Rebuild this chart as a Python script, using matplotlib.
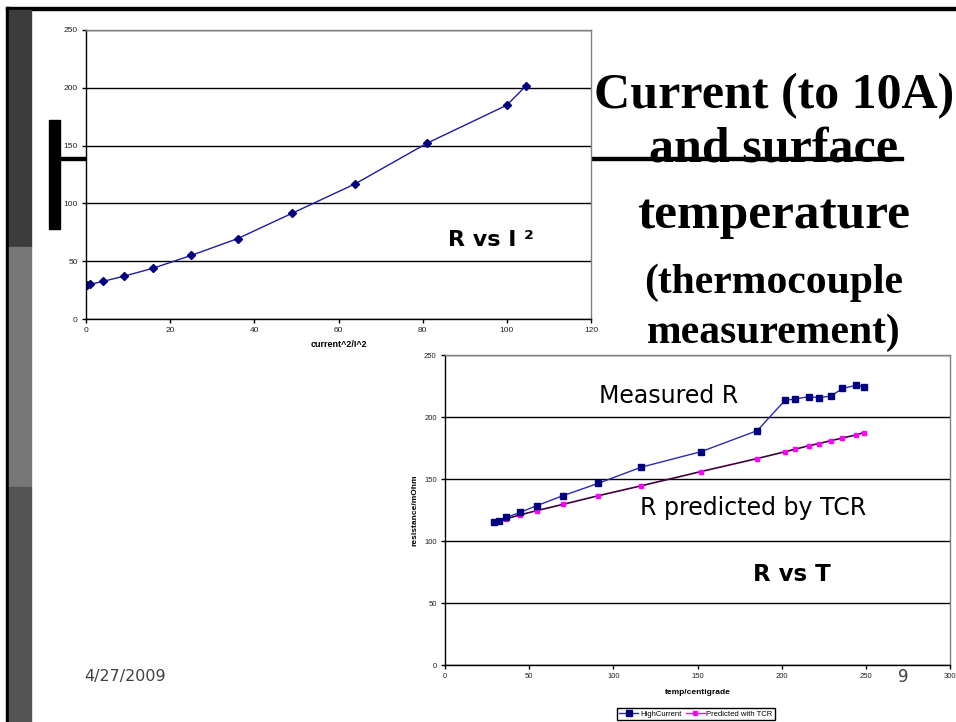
import matplotlib.pyplot as plt
from matplotlib.patches import Rectangle
from matplotlib.lines import Line2D

# R vs I^2 (top chart)
current_sq = [0.25, 1, 4, 9, 16, 25, 36, 49, 64, 81, 100, 104.5]
resistance_i2 = [29, 30, 32.5, 37, 44, 55, 69.5, 91.5, 117, 152, 185, 201.5]

# R vs T (bottom chart)
temp_c = [29, 32, 36.5, 44.5, 54.5, 70, 91, 116.5, 152, 185.5,
          202, 208, 216.5, 222, 229.5, 236, 244, 249]
high_current = [115, 116.5, 119, 123, 128.5, 136.5, 146.5, 159.5, 172, 189,
                213.5, 214.5, 216.5, 215.5, 217, 223, 225.5, 224.5]
predicted_tcr = [115.5, 116.5, 118, 121, 124.5, 129.5, 136.5, 144.5, 156, 166.5,
                 172, 174, 177, 178.5, 181, 183, 185.5, 187.5]

series_names = ["HighCurrent", "Predicted with TCR"]

title_lines = ["Current (to 10A)", "and surface", "temperature",
               "(thermocouple", "measurement)"]

plt.rcParams["font.family"] = "Liberation Sans"

fig = plt.figure(figsize=(9.56, 7.22), dpi=100)

# slide background, drawn in pixel coordinates
bg = fig.add_axes([0, 0, 1, 1])
bg.set_xlim(0, 956)
bg.set_ylim(722, 0)
bg.axis("off")
bg.add_patch(Rectangle((6, 7), 950, 2.5, color="black"))
bg.add_patch(Rectangle((6, 7), 3, 715, color="black"))
bg.add_patch(Rectangle((9, 9.5), 22, 237.5, color="#3c3c3c"))
bg.add_patch(Rectangle((9, 247), 22, 240, color="#777777"))
bg.add_patch(Rectangle((9, 487), 22, 235, color="#555555"))
bg.add_patch(Rectangle((49, 120), 11, 109, color="black"))
bg.add_patch(Rectangle((60, 157), 843, 3, color="black"))

sizes = [36, 36, 37, 30, 30]
baselines = [108, 162, 228, 293, 343]
for line, size, yb in zip(title_lines, sizes, baselines):
    bg.text(774, yb, line, ha="center", va="baseline", fontsize=size,
            fontweight="bold", fontfamily="Liberation Serif", color="black")

bg.text(84, 677, "4/27/2009", fontsize=11.5, color="#404040", va="center",
        fontfamily="DejaVu Sans")
bg.text(903, 677, "9", fontsize=12, color="#404040", va="center",
        ha="center", fontfamily="DejaVu Sans")


def style_axes(ax, xmax, xstep, tick_size):
    ax.set_xlim(0, xmax)
    ax.set_ylim(0, 250)
    ax.set_xticks(range(0, xmax + 1, xstep))
    ax.set_yticks(range(0, 251, 50))
    ax.yaxis.grid(True, color="black", linewidth=1)
    ax.set_axisbelow(True)
    ax.spines["left"].set_color("black")
    ax.spines["bottom"].set_color("black")
    ax.spines["top"].set_color("#808080")
    ax.spines["right"].set_color("#808080")
    for s in ax.spines.values():
        s.set_linewidth(1)
    ax.tick_params(direction="out", length=3, width=1, color="black",
                   labelsize=tick_size, labelcolor="#222222", pad=3)
    ax.set_facecolor("white")


# top chart
ax1 = fig.add_axes([86 / 956, 1 - 319 / 722, 505 / 956, 289 / 722])
style_axes(ax1, 120, 20, 6)
ax1.plot(current_sq, resistance_i2, color="#1c1ca0", linewidth=1,
         marker="D", markersize=4.5, markerfacecolor="#000080",
         markeredgecolor="#000080")
ax1.set_xlabel("current^2/I^2", fontsize=6.5, fontweight="bold", labelpad=4)
ax1.text(86, 68.6, "R vs I \u00b2", fontsize=16, fontweight="bold",
         fontfamily="DejaVu Sans", va="center")

# bottom chart
ax2 = fig.add_axes([445 / 956, 1 - 665 / 722, 505 / 956, 310 / 722])
style_axes(ax2, 300, 50, 5.5)
ax2.plot(temp_c, predicted_tcr, color="#400040", linewidth=1.2,
         marker="s", markersize=2.6, markerfacecolor="#ff00ff",
         markeredgecolor="#ff00ff")
ax2.plot(temp_c, high_current, color="#2b2bb0", linewidth=1,
         marker="s", markersize=4.6, markerfacecolor="#000080",
         markeredgecolor="#000080")
ax2.set_xlabel("temp/centigrade", fontsize=6, fontweight="bold", labelpad=6)
ax2.set_ylabel("resistance/mOhm", fontsize=6, fontweight="bold", labelpad=4)
ax2.text(91.7, 217, "Measured R", fontsize=17, fontfamily="DejaVu Sans",
         va="center")
ax2.text(116, 126.6, "R predicted by TCR", fontsize=17,
         fontfamily="DejaVu Sans", va="center")
ax2.text(183, 73, "R vs T", fontsize=16.5, fontweight="bold",
         fontfamily="DejaVu Sans", va="center")

handles = [
    Line2D([], [], color="#2b2bb0", linewidth=1, marker="s", markersize=4.6,
           markerfacecolor="#000080", markeredgecolor="#000080"),
    Line2D([], [], color="#ff00ff", linewidth=1, marker="s", markersize=2.6,
           markerfacecolor="#ff00ff", markeredgecolor="#ff00ff"),
]
leg = fig.legend(handles, series_names, loc="center",
                 bbox_to_anchor=(696 / 956, 1 - 714 / 722), ncol=2,
                 fontsize=5.5, frameon=True, fancybox=False, framealpha=1,
                 edgecolor="black", borderpad=0.3, handlelength=2.5,
                 handletextpad=0.2, columnspacing=0.6)
leg.get_frame().set_linewidth(1)

fig.savefig("out.png", dpi=100)
